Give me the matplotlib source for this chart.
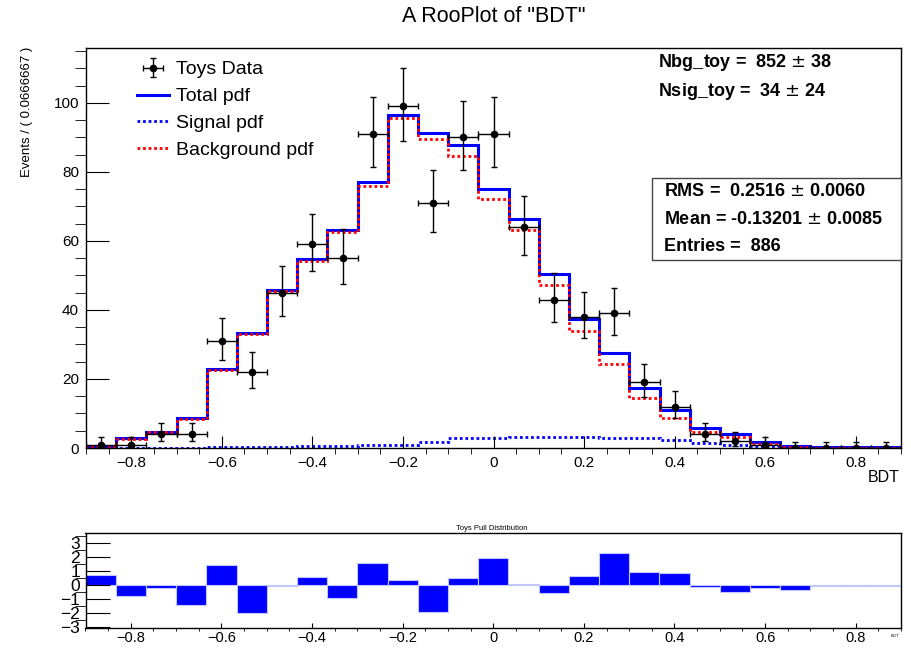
import numpy as np
import matplotlib
matplotlib.use('Agg')
import matplotlib.pyplot as plt
from matplotlib.ticker import MultipleLocator, FuncFormatter
from matplotlib.patches import Rectangle

plt.rcParams['font.family'] = ['Liberation Sans', 'DejaVu Sans']

# binning of the BDT output
bdt_min, bdt_max, n_bins = -0.9, 0.9, 27

toys_counts = [1, 1, 4, 4, 31, 22, 45, 59, 55, 91, 99, 71, 90, 91,
               64, 43, 38, 39, 19, 12, 4, 2, 1, 0, 0, 0, 0]
signal_pdf = [0.1, 0.1, 0.1, 0.1, 0.3, 0.4, 0.4, 0.5, 0.6, 1.0, 1.0, 1.8, 3.0, 3.0,
              3.2, 3.3, 3.3, 3.0, 2.9, 2.3, 1.4, 1.0, 0.6, 0.2, 0.1, 0.1, 0.1]
background_pdf = [0.3, 2.7, 4.6, 8.5, 22.6, 33.0, 45.4, 54.3, 62.6, 76.0, 95.5, 89.4, 84.7, 72.1,
                  63.2, 47.1, 34.0, 24.4, 14.6, 8.7, 4.5, 3.2, 1.2, 0.4, 0.1, 0.1, 0.1]
pulls = [0.77, -0.79, -0.22, -1.44, 1.44, -1.97, -0.07, 0.58, -0.91, 1.56, 0.36, -1.89, 0.53, 1.97,
         0.12, -0.55, 0.70, 2.30, 0.98, 0.86, -0.10, -0.45, -0.17, -0.34, -0.03, -0.03, -0.03]

nbg_text = 'Nbg_toy =  852 $\\pm$ 38'
nsig_text = 'Nsig_toy =  34 $\\pm$ 24'
stats_lines = ['RMS =  0.2516 $\\pm$ 0.0060',
               'Mean = -0.13201 $\\pm$ 0.0085',
               'Entries =  886']

edges = np.linspace(bdt_min, bdt_max, n_bins + 1)
centers = 0.5 * (edges[1:] + edges[:-1])
bw = edges[1] - edges[0]
counts = np.array(toys_counts, dtype=float)
sig = np.array(signal_pdf)
bkg = np.array(background_pdf)
total = sig + bkg

# poisson (Gehrels) errors on the toy counts
with np.errstate(divide='ignore', invalid='ignore'):
    lower = np.where(counts > 0,
                     counts * (1 - 1 / (9 * counts) - 1 / (3 * np.sqrt(counts))) ** 3, 0.0)
upper = (counts + 1) * (1 - 1 / (9 * (counts + 1)) + 1 / (3 * np.sqrt(counts + 1))) ** 3
err_lo = counts - lower
err_hi = upper - counts


def fmt_tick(v, pos):
    s = '%g' % round(v, 6)
    return s.replace('-', '\u2212')


W, H = 911, 649
fig = plt.figure(figsize=(W / 100, H / 100), dpi=100)
ax = fig.add_axes([86 / W, 1 - 448 / H, 815 / W, 400 / H])
ax2 = fig.add_axes([85.5 / W, 1 - 628.3 / H, 815.5 / W, 95.6 / H])

ax.stairs(total, edges, baseline=0, color='#0000ff', lw=2.2, label='Total pdf')
ax.stairs(sig, edges, baseline=0, color='#0000ff', lw=2, ls=(0, (1, 1)), label='Signal pdf')
ax.stairs(bkg, edges, baseline=0, color='#ff0000', lw=2, ls=(0, (1, 1)), label='Background pdf')
ax.errorbar(centers, counts, xerr=bw / 2, yerr=[err_lo, err_hi], fmt='o', color='black',
            ms=4.5, elinewidth=1, capsize=2, capthick=1, label='Toys Data')

ax.set_xlim(bdt_min, bdt_max)
ax.set_ylim(0, 115.9)
ax.xaxis.set_major_locator(MultipleLocator(0.2))
ax.xaxis.set_minor_locator(MultipleLocator(0.05))
ax.yaxis.set_major_locator(MultipleLocator(20))
ax.yaxis.set_minor_locator(MultipleLocator(5))
ax.xaxis.set_major_formatter(FuncFormatter(fmt_tick))
ax.tick_params(direction='in', labelsize=11, top=False, right=False)
ax.tick_params(axis='y', which='major', length=16.5, pad=5)
ax.tick_params(axis='y', which='minor', length=8)
ax.tick_params(axis='x', which='major', length=8.6, pad=6)
ax.tick_params(axis='x', which='minor', length=4.3)

h, l = ax.get_legend_handles_labels()
order = [3, 0, 1, 2]
ax.legend([h[i] for i in order], [l[i] for i in order], loc='upper left',
          bbox_to_anchor=(0.0626, 0.968), frameon=False, fontsize=14, borderpad=0,
          borderaxespad=0, handlelength=1.65, handletextpad=0.35, labelspacing=0.48)

# pull distribution
ax2.bar(centers, pulls, width=bw, color='#0000ff', edgecolor='#c0c8ff', linewidth=0.8)
ax2.set_xlim(bdt_min, bdt_max)
ax2.set_ylim(-3.07, 3.76)
ax2.xaxis.set_major_locator(MultipleLocator(0.2))
ax2.xaxis.set_minor_locator(MultipleLocator(0.05))
ax2.yaxis.set_major_locator(MultipleLocator(1))
ax2.yaxis.set_minor_locator(MultipleLocator(0.5))
ax2.xaxis.set_major_formatter(FuncFormatter(fmt_tick))
ax2.yaxis.set_major_formatter(FuncFormatter(fmt_tick))
ax2.tick_params(direction='in', top=False, right=False)
ax2.tick_params(axis='x', which='major', length=3.6, pad=2, labelsize=10.5)
ax2.tick_params(axis='x', which='minor', length=2)
ax2.tick_params(axis='y', which='major', length=17, pad=4, labelsize=12.5)
ax2.tick_params(axis='y', which='minor', length=8)

for a in (ax, ax2):
    for sp in a.spines.values():
        sp.set_linewidth(1)

# texts around the frames
fig.text(494 / W, 1 - 16 / H, 'A RooPlot of "BDT"', ha='center', va='center', fontsize=15.5)
fig.text(27 / W, 1 - 47 / H, 'Events / ( 0.0666667 )', rotation=90, ha='center', va='top',
         fontsize=9.5)
fig.text(900 / W, 1 - 478 / H, 'BDT', ha='right', va='center', fontsize=11.5)
fig.text(492 / W, 1 - 529 / H, 'Toys Pull Distribution', ha='center', va='center', fontsize=5.5)
fig.text(895 / W, 1 - 636 / H, 'BDT', ha='center', va='center', fontsize=3)

fig.text(658 / W, 1 - 62.7 / H, nbg_text, ha='left', va='center', fontsize=13, fontweight='bold')
fig.text(658 / W, 1 - 91.7 / H, nsig_text, ha='left', va='center', fontsize=13, fontweight='bold')

box = Rectangle((651.7 / W, 1 - 260 / H), (901 - 651.7) / W, (260 - 177.7) / H,
                transform=fig.transFigure, facecolor='white', edgecolor='#444444', lw=1, zorder=5)
fig.add_artist(box)
for i, line in enumerate(stats_lines):
    fig.text(664 / W, 1 - (191.7 + 27.5 * i) / H, line, ha='left', va='center',
             fontsize=13, fontweight='bold', zorder=6)

fig.savefig('out.png', dpi=100)
